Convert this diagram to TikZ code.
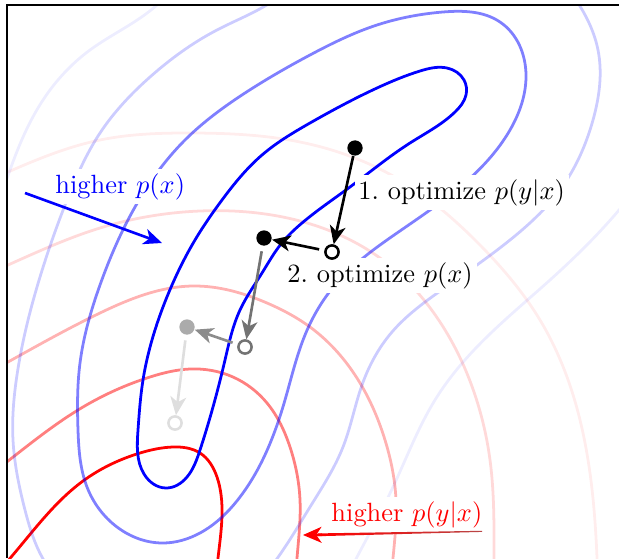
\documentclass[tikz,border=0pt]{standalone}
\usetikzlibrary{arrows.meta,hobby}
\begin{document}
\begin{tikzpicture}[x=0.379pt,y=-0.379pt,
  contour/.style={line width=1.05pt},
  bl/.style={contour, draw=blue, draw opacity=#1},
  rd/.style={contour, draw=red, draw opacity=#1},
  arrtip/.style={-{Stealth[length=7pt,width=6pt,inset=2pt]}},
  arr/.style={arrtip, line width=1pt},
  dotnode/.style={circle, fill=#1, minimum size=5.8pt, inner sep=0pt},
  ringnode/.style={circle, draw=#1, fill=white, line width=0.95pt, minimum size=5pt, inner sep=0pt},
  lbl/.style={inner sep=1.5pt, anchor=base west, fill=white},
]
\useasboundingbox (0,0) rectangle (619,558);

\begin{scope}
\clip (7,5) rectangle (619,558);
% red contours: p(y|x)
\draw[rd=0.07] plot[hobby] coordinates {(-10,180) (8,172) (100,140) (190,133) (300,142) (400,180) (480,245) (540,320) (580,420) (597,558) (598,590)};
\draw[rd=0.15] plot[hobby] coordinates {(-10,273) (8,265) (100,228) (200,211) (300,221) (380,258) (440,322) (475,395) (490,460) (494,558) (494,590)};
\draw[rd=0.3] plot[hobby] coordinates {(-10,372) (8,362) (100,313) (193,286) (267,303) (310,327) (355,375) (385,440) (396,500) (393,558) (390,590)};
\draw[rd=0.5] plot[hobby] coordinates {(-10,475) (8,461) (83,407) (150,377) (190,369) (233,377) (267,403) (290,447) (300,500) (297,558) (295,590)};
\draw[rd=1] plot[hobby] coordinates {(-15,586) (12,556) (83,481) (140,453) (173,447) (200,453) (217,477) (222,515) (218,558) (215,590)};
% blue contours: p(x)
\draw[bl=0.07] plot[hobby] coordinates {(175,-15) (157,5) (90,50) (43,100) (10,170) (0,200)};
\draw[bl=0.07] plot[hobby] coordinates {(650,170) (613,217) (550,280) (474,350) (435,400) (393,487) (357,557) (345,580)};
\draw[bl=0.2] plot[hobby] coordinates {(290,-12) (270,3) (217,30) (150,77) (100,133) (67,200) (40,277) (17,375) (13,440) (25,510) (42,557) (100,612) (190,625) (260,580) (310,507) (343,447) (362,385) (392,332) (443,289) (510,240) (560,190) (593,120) (598,50) (578,3) (565,-15)};
\draw[bl=0.5] plot[closed hobby] coordinates {(443,12) (500,22) (526,75) (510,130) (460,187) (397,233) (335,285) (305,335) (285,400) (240,497) (200,533) (163,543) (117,527) (87,487) (78,430) (80,363) (100,285) (135,207) (185,140) (245,93) (310,55) (377,25)};
\draw[bl=1] plot[closed hobby] coordinates {(447,68) (464,80) (466,95) (455,112) (410,143) (350,187) (302,223) (281,244) (262,273) (240,310) (225,360) (213,407) (200,450) (187,477) (166,488) (144,474) (138,430) (143,380) (155,330) (172,285) (195,240) (222,200) (262,155) (310,123) (377,88) (420,71)};
\end{scope}

% frame
\draw[line width=1.1pt] (7,558) -- (7,5) -- (619,5);

% labels
\node[lbl, text=blue] (hpx) at (51,193) {higher $p(x)$};
\node[lbl] (l1) at (354,199) {1.\ optimize $p(y|x)$};
\node[lbl] (l2) at (283,282) {2.\ optimize $p(x)$};
\node[lbl, text=red] (hpyx) at (327,521) {higher $p(y|x)$};

% annotation arrows
\coordinate (ba) at (25,193);
\coordinate (bb) at (162,243);
\draw[blue, arr] (ba) -- (bb);

\coordinate (rb) at (303,535);
\coordinate (rm) at (322,534.8);
\shade[left color=red, right color=red!45!gray] (318,533.4) -- (482,530.8) -- (482,531.9) -- (318,536.2) -- cycle;
\draw[red, arr] (rm) -- (rb);

% optimisation steps
\node[dotnode=black] (p1) at (355,148) {};
\node[ringnode=black] (o1) at (332,252) {};
\node[dotnode=black] (p2) at (264,238) {};
\node[ringnode=black!55] (o2) at (245,347) {};
\node[dotnode=black!33] (p3) at (187,327) {};
\node[ringnode=black!13] (o3) at (175,423) {};

\draw[arr, black] (p1) -- (o1);
\draw[arr, black, shorten <=2pt] (o1) -- (p2);
\draw[arr, black!55, shorten <=2pt] (p2) -- (o2);
\draw[arr, black!45, shorten <=2pt] (o2) -- (p3);
\draw[arr, black!13, shorten <=2pt] (p3) -- (o3);
\end{tikzpicture}
\end{document}
